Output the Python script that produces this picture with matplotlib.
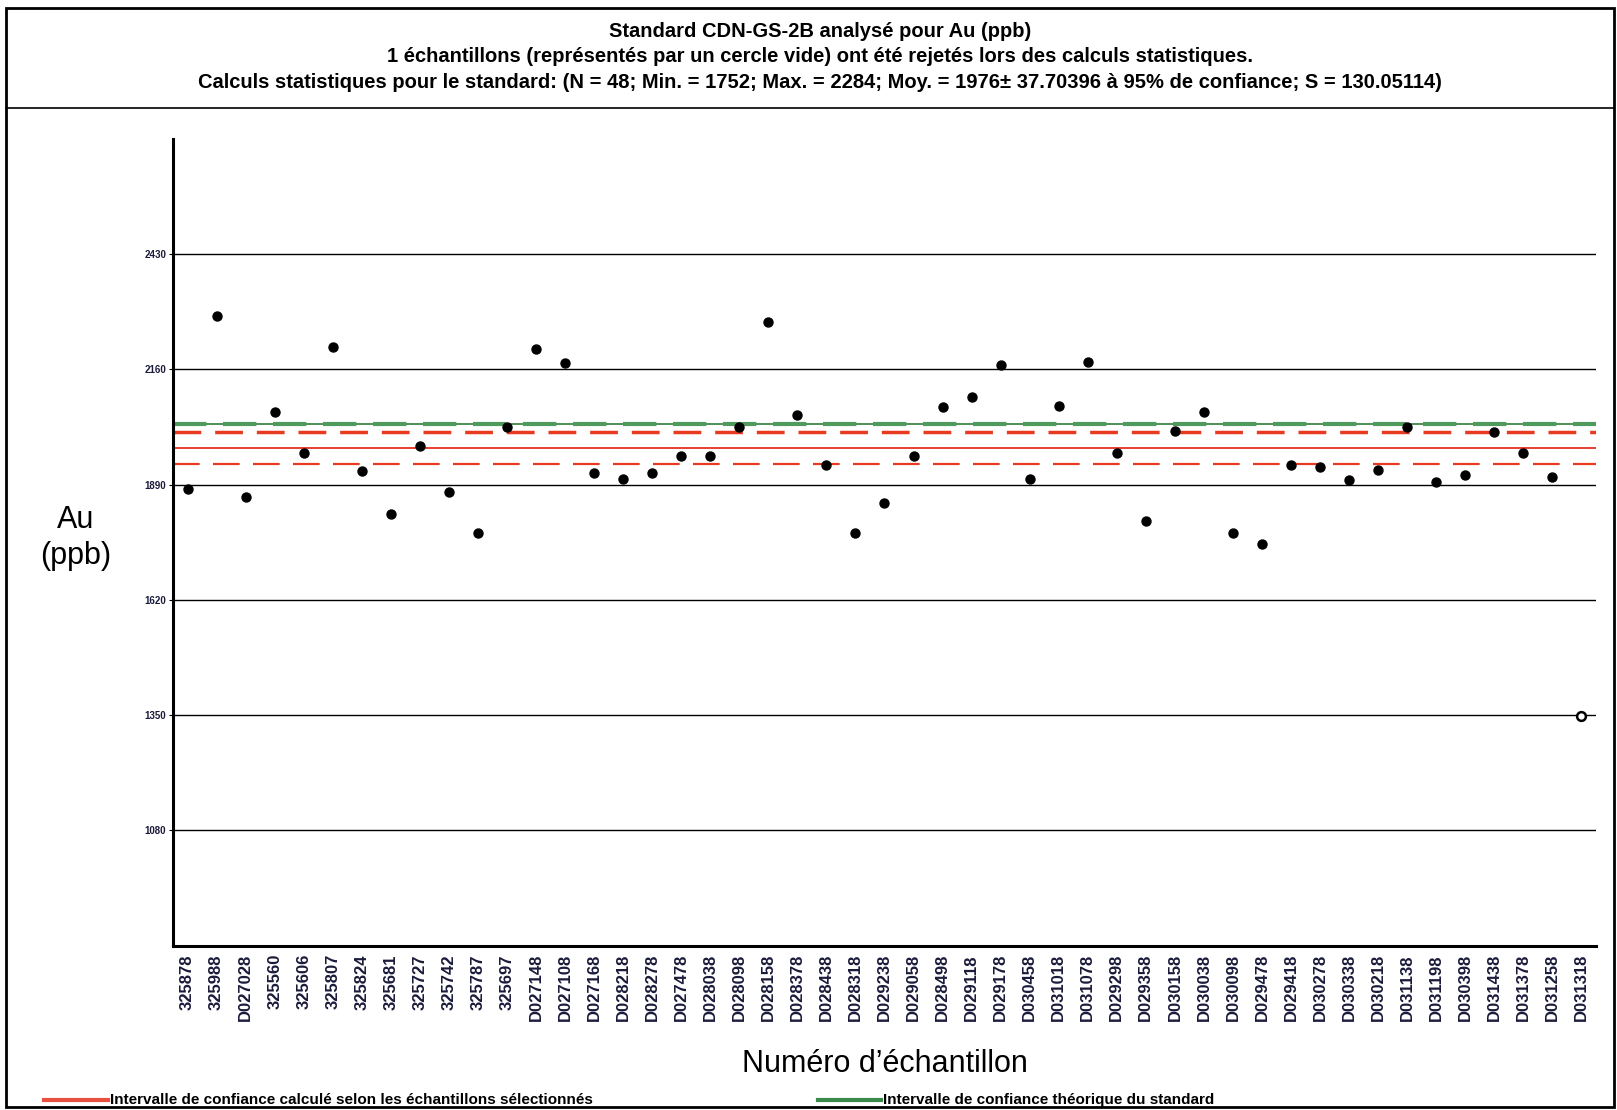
import numpy as np
import matplotlib.pyplot as plt
from matplotlib.patches import Rectangle
from matplotlib.lines import Line2D

plt.rcParams['font.family'] = ['Liberation Sans', 'DejaVu Sans']

samples = ['325878', '325988', 'D027028', '325560', '325606', '325807', '325824',
           '325681', '325727', '325742', '325787', '325697', 'D027148', 'D027108',
           'D027168', 'D028218', 'D028278', 'D027478', 'D028038', 'D028098',
           'D028158', 'D028378', 'D028438', 'D028318', 'D029238', 'D029058',
           'D028498', 'D029118', 'D029178', 'D030458', 'D031018', 'D031078',
           'D029298', 'D029358', 'D030158', 'D030038', 'D030098', 'D029478',
           'D029418', 'D030278', 'D030338', 'D030218', 'D031138', 'D031198',
           'D030398', 'D031438', 'D031378', 'D031258', 'D031318']
au_ppb = [1880, 2284, 1861, 2060, 1963, 2213, 1922, 1822, 1980, 1873, 1776, 2026,
          2208, 2174, 1917, 1902, 1917, 1956, 1958, 2026, 2271, 2053, 1936, 1776,
          1846, 1958, 2072, 2094, 2169, 1902, 2074, 2176, 1963, 1805, 2016, 2060,
          1776, 1752, 1936, 1931, 1900, 1924, 2026, 1895, 1912, 2014, 1963, 1907,
          1349]
rejected = [False] * 48 + [True]

mean = 1976
ci95 = 37.70396
theoretical = 2033
yticks = [1080, 1350, 1620, 1890, 2160, 2430]

title = ("Standard CDN-GS-2B analysé pour Au (ppb)\n"
         "1 échantillons (représentés par un cercle vide) ont été rejetés lors des calculs statistiques.\n"
         "Calculs statistiques pour le standard: (N = 48; Min. = 1752; Max. = 2284; "
         "Moy. = 1976± 37.70396 à 95% de confiance; S = 130.05114)")

fig = plt.figure(figsize=(16.17, 11.1), dpi=100)
ax = fig.add_axes([0.107, 0.148, 0.880, 0.727])

x = np.arange(len(samples))
ax.set_xlim(-0.5, 48.5)
ax.set_ylim(810, 2700)

for t in yticks:
    ax.axhline(t, color='black', lw=1.0, zorder=1)

ax.axhline(theoretical, color='#2e7d3a', lw=1.2, zorder=2)
ax.axhline(theoretical, color='#4f9a5c', lw=3, ls=(0, (8, 4)), zorder=2)
ax.axhline(mean, color='#e02010', lw=1.2, zorder=2)
ax.axhline(mean + ci95, color='#e83a20', lw=2.5, ls=(0, (8, 4)), zorder=2)
ax.axhline(mean - ci95, color='#e83a20', lw=1.6, ls=(0, (12, 6)), zorder=2)

vals = np.array(au_ppb)
rej = np.array(rejected)
ax.scatter(x[~rej], vals[~rej], s=42, color='black', zorder=3)
ax.scatter(x[rej], vals[rej], s=40, facecolor='white', edgecolor='black', lw=1.8, zorder=3)

for s in ['top', 'right']:
    ax.spines[s].set_visible(False)
ax.spines['left'].set_linewidth(2.2)
ax.spines['bottom'].set_linewidth(2.2)

ax.set_yticks(yticks)
ax.set_yticklabels([str(t) for t in yticks], fontsize=7, fontweight='bold', color='#1a1a3a')
ax.tick_params(axis='y', length=3, width=0.8, pad=2)
ax.set_xticks(x)
ax.set_xticklabels(samples, rotation=90, fontsize=12, fontweight='bold', color='#1a1a3a')
ax.tick_params(axis='x', length=0, pad=6)

ax.set_xlabel("Numéro d’échantillon", fontsize=22, labelpad=20)
fig.text(0.047, 0.515, "Au\n(ppb)", fontsize=22, ha='center', va='center', linespacing=1.25)

fig.text(0.507, 0.980, title, fontsize=14.5, fontweight='bold', ha='center', va='top',
         linespacing=1.42)

# frames
fig.add_artist(Rectangle((0.004, 0.003), 0.994, 0.99, transform=fig.transFigure,
                         fill=False, lw=2, ec='black'))
fig.add_artist(Line2D([0.004, 0.998], [0.903, 0.903], transform=fig.transFigure,
                      color='black', lw=1.2))

# legend
fig.add_artist(Line2D([0.027, 0.067], [0.009, 0.009], transform=fig.transFigure,
                      color='#e85040', lw=3))
fig.text(0.068, 0.009, "Intervalle de confiance calculé selon les échantillons sélectionnés",
         fontsize=11, fontweight='bold', va='center')
fig.add_artist(Line2D([0.506, 0.545], [0.009, 0.009], transform=fig.transFigure,
                      color='#3a8a4a', lw=3))
fig.text(0.546, 0.009, "Intervalle de confiance théorique du standard",
         fontsize=11, fontweight='bold', va='center')

fig.savefig('out.png', dpi=100)
